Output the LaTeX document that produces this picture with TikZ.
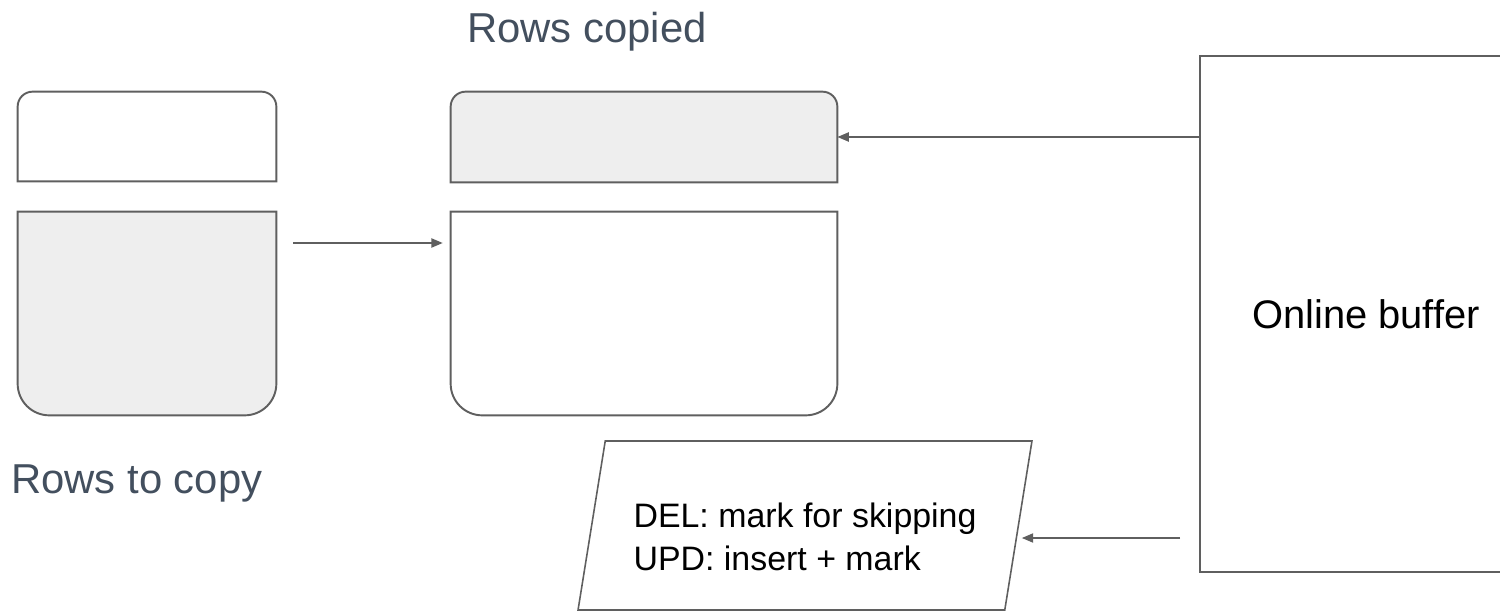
\documentclass[tikz,border=0pt]{standalone}
\usepackage{fontspec}
\setmainfont{Liberation Sans}
\usetikzlibrary{arrows.meta,positioning,shapes.geometric,fit}

\definecolor{edgegrey}{HTML}{5F5F5F}
\definecolor{rowgrey}{HTML}{EEEEEE}
\definecolor{slate}{HTML}{434F5E}

% box outline rounded on top / on bottom
\newcommand{\toprounded}[2]{%
  \draw[outline,fill=#2] (#1.south west) -- ([yshift=-8.5pt]#1.north west)
    arc[start angle=180,end angle=90,radius=8.5pt] -- ([xshift=-8.5pt]#1.north east)
    arc[start angle=90,end angle=0,radius=8.5pt] -- (#1.south east) -- cycle;}
\newcommand{\botrounded}[2]{%
  \draw[outline,fill=#2] (#1.north west) -- ([yshift=18pt]#1.south west)
    arc[start angle=180,end angle=270,radius=18pt] -- ([xshift=-18pt]#1.south east)
    arc[start angle=270,end angle=360,radius=18pt] -- (#1.north east) -- cycle;}

\begin{document}
\begin{tikzpicture}[x=0.02cm,y=-0.02cm,
  rowbox/.style={inner sep=0pt},
  outline/.style={draw=edgegrey,line width=1.1pt},
  conn/.style={draw=edgegrey,line width=1pt,-{Triangle[length=6.5pt,width=5.2pt]}},
  caption/.style={text=slate,font=\fontsize{23.8}{28}\selectfont,inner sep=0pt,anchor=base west},
  buffer/.style={draw=edgegrey,line width=1.1pt,minimum width=6.64cm,minimum height=10.32cm,
    font=\fontsize{22.7}{27}\selectfont},
  action/.style={trapezium,trapezium left angle=75,trapezium right angle=105,
    trapezium stretches body,minimum height=3.38cm,minimum width=9.08cm,
    draw=edgegrey,line width=0.9pt,align=left,font=\fontsize{19.3}{24.4}\selectfont}
]
\useasboundingbox (0,0) rectangle (1500,611);

% Source table
\node[rowbox,fit={(18,92) (276,181)}] (oldtop) {};
\node[rowbox,fit={(18,212) (276,415)}] (oldrows) {};
\toprounded{oldtop}{white}
\botrounded{oldrows}{rowgrey}

% Target table
\node[rowbox,fit={(451,92) (837,182)}] (copied) {};
\node[rowbox,fit={(451,212) (837,415)}] (newrows) {};
\toprounded{copied}{rowgrey}
\botrounded{newrows}{white}

% Labels
\node[caption] (copiedlabel) at (467,43) {Rows copied};
\node[caption] (tocopylabel) at (11,493) {Rows to copy};

% Buffer and replay
\node[buffer] (buffer) at (1366,314) {Online buffer};
\node[action] (marks) at (805,525.5) {\rule{0pt}{26.5pt}DEL: mark for skipping\\UPD: insert + mark};

% Connectors
\coordinate (feed) at (293,243);
\draw[conn,shorten >=4.5pt] (feed) -- (feed -| newrows.west);
\draw[conn] (copied.east -| buffer.west) -- (copied.east);
\coordinate (ops) at (1180,538);
\draw[conn,shorten >=1.5pt] (ops) -- (ops -| marks.east);
\end{tikzpicture}
\end{document}
